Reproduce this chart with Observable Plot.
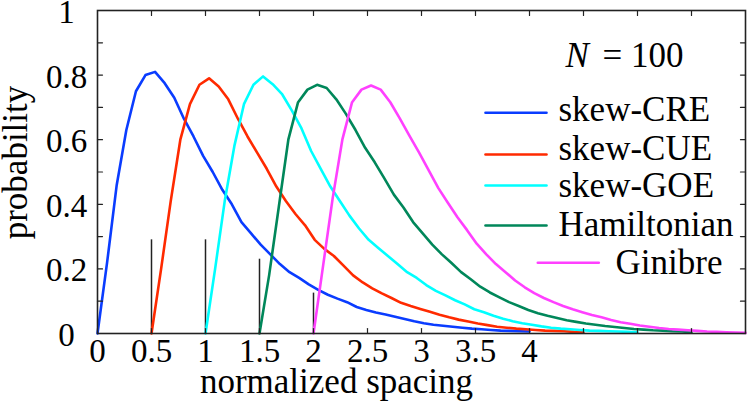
<!DOCTYPE html>
<html><head><meta charset="utf-8">
<script src="https://cdn.jsdelivr.net/npm/d3@7"></script>
<script src="https://cdn.jsdelivr.net/npm/@observablehq/plot@0.6"></script>
<style>body{margin:0;background:#fff;}</style>
</head><body><div id="chart"></div>
<script>
const seriesNames = ["skew-CRE", "skew-CUE", "skew-GOE", "Hamiltonian", "Ginibre"];
const seriesOffsets = [0, 0.5, 1, 1.5, 2];
const seriesColors = ["#0a3cff", "#ff2a00", "#00ffff", "#00875a", "#ff40ff"];
const spacingGrid = [0,0.089,0.178,0.267,0.356,0.444,0.533,0.622,0.711,0.8,0.889,0.978,1.067,1.156,1.244,1.333,1.422,1.511,1.6,1.689,1.778,1.867,1.956,2.044,2.133,2.222,2.311,2.4,2.489,2.578,2.667,2.756,2.844,2.933,3.022,3.111,3.2,3.289,3.378,3.467,3.556,3.644,3.733,3.822,3.911,4.0];
const creValues = [0,0.22,0.46,0.63,0.75,0.80,0.81,0.775,0.73,0.665,0.61,0.55,0.50,0.445,0.40,0.345,0.31,0.275,0.245,0.215,0.19,0.172,0.152,0.135,0.12,0.108,0.097,0.082,0.073,0.065,0.059,0.052,0.045,0.038,0.032,0.027,0.024,0.021,0.018,0.015,0.013,0.011,0.009,0.008,0.007,0.006];
const cueValues = [0,0.2,0.41,0.60,0.71,0.77,0.79,0.765,0.725,0.665,0.61,0.56,0.51,0.455,0.41,0.37,0.335,0.29,0.262,0.24,0.21,0.18,0.158,0.14,0.124,0.11,0.095,0.085,0.076,0.067,0.058,0.05,0.043,0.037,0.031,0.026,0.021,0.018,0.015,0.013,0.011,0.009,0.008,0.007,0.005,0.004];
const goeValues = [0,0.2,0.41,0.58,0.71,0.77,0.796,0.772,0.74,0.69,0.635,0.565,0.51,0.455,0.41,0.365,0.325,0.29,0.265,0.24,0.215,0.19,0.172,0.15,0.132,0.118,0.103,0.09,0.075,0.066,0.055,0.046,0.038,0.032,0.027,0.022,0.018,0.015,0.013,0.011,0.009,0.008,0.007,0.006,0.005,0.004];
const hamValues = [0,0.18,0.39,0.60,0.715,0.755,0.77,0.76,0.725,0.68,0.63,0.575,0.53,0.48,0.43,0.39,0.345,0.31,0.275,0.245,0.218,0.19,0.168,0.145,0.127,0.112,0.097,0.085,0.073,0.063,0.055,0.048,0.041,0.036,0.031,0.027,0.023,0.02,0.017,0.014,0.012,0.01,0.009,0.007,0.006,0.004];
const ginValues = [0,0.21,0.42,0.60,0.715,0.755,0.768,0.755,0.716,0.665,0.612,0.56,0.505,0.45,0.405,0.36,0.32,0.278,0.245,0.215,0.19,0.164,0.143,0.125,0.11,0.097,0.085,0.075,0.066,0.057,0.05,0.042,0.035,0.03,0.025,0.021,0.017,0.014,0.012,0.01,0.008,0.006,0.005,0.004,0.003,0.002];
const seriesValues = [creValues, cueValues, goeValues, hamValues, ginValues];
const markerX = [0.5, 1, 1.5, 2];
const markerHeights = [0.29, 0.29, 0.23, 0.125];
const xTickLabels = [0, 0.5, 1, 1.5, 2, 2.5, 3, 3.5, 4];
const xTickMarks = [0.5, 1, 1.5, 2, 2.5, 3, 3.5, 4, 4.5, 5, 5.5];
const yTickLabels = [0, 0.2, 0.4, 0.6, 0.8, 1];
const yTickMarks = [0.1, 0.2, 0.3, 0.4, 0.5, 0.6, 0.7, 0.8, 0.9];

const rows = [];
seriesNames.forEach((name, s) => {
  seriesValues[s].forEach((v, i) => rows.push({series: name, x: seriesOffsets[s] + spacingGrid[i], y: v}));
});
const markers = markerX.map((x, i) => ({x, h: markerHeights[i]}));

const lineShape = {draw(ctx, l) { ctx.moveTo(0, 0); ctx.lineTo(0, -l); }};
const font = "Liberation Serif";

// legend layout (pixel offsets from top-left of frame)
const legendLine = [
  {dx: 388, dy: 102.3}, {dx: 388, dy: 144}, {dx: 388, dy: 175}, {dx: 388, dy: 215}, {dx: 440.3, dy: 252.3}
];
const legendText = [
  {dx: 461, dy: 98.8}, {dx: 461, dy: 137.8}, {dx: 461, dy: 175.5}, {dx: 461, dy: 213.8}, {dx: 518, dy: 251.8}
];

const legendMarks = [];
seriesNames.forEach((name, s) => {
  legendMarks.push(Plot.vector([name], {frameAnchor: "top-left", dx: legendLine[s].dx, dy: legendLine[s].dy, length: 61, rotate: 90, anchor: "start", shape: lineShape, stroke: seriesColors[s], strokeWidth: 2.6}));
  legendMarks.push(Plot.text([name], {frameAnchor: "top-left", dx: legendText[s].dx, dy: legendText[s].dy, text: d => d, textAnchor: "start", lineAnchor: "middle", fontSize: 35, fontFamily: font, fill: "black"}));
});

const chart = Plot.plot({
  width: 747, height: 405,
  marginLeft: 97, marginRight: 2, marginTop: 10, marginBottom: 72,
  style: {fontFamily: font, background: "white", color: "black"},
  x: {domain: [0, 6]},
  y: {domain: [0, 1]},
  color: {domain: seriesNames, range: seriesColors},
  marks: [
    Plot.ruleX(markers, {x: "x", y1: 0, y2: "h", stroke: "#222", strokeWidth: 1.5}),
    Plot.line(rows, {x: "x", y: "y", z: "series", stroke: "series", strokeWidth: 2.6, strokeLinejoin: "round"}),
    Plot.vector(xTickMarks, {x: d => d, y: () => 0, length: 5, anchor: "start", shape: lineShape, stroke: "#222", strokeWidth: 1.2}),
    Plot.vector(xTickMarks, {x: d => d, y: () => 1, length: 5, rotate: 180, anchor: "start", shape: lineShape, stroke: "#222", strokeWidth: 1.2}),
    Plot.vector(yTickMarks, {x: () => 0, y: d => d, length: 5, rotate: 90, anchor: "start", shape: lineShape, stroke: "#222", strokeWidth: 1.2}),
    Plot.vector(yTickMarks, {x: () => 6, y: d => d, length: 5, rotate: -90, anchor: "start", shape: lineShape, stroke: "#222", strokeWidth: 1.2}),
    Plot.frame({stroke: "#222", strokeWidth: 1.6}),
    Plot.axisX(xTickLabels, {tickSize: 0, tickPadding: 5, fontSize: 33, label: null, tickFormat: d => String(d), fontFamily: font}),
    Plot.axisY(yTickLabels, {tickSize: 0, tickPadding: 31, textAnchor: "middle", fontSize: 33, label: null, tickFormat: d => String(d), fontFamily: font, dy: 2}),
    Plot.text(["normalized spacing"], {frameAnchor: "bottom", dx: -85, dy: 47.8, text: d => d, textAnchor: "middle", lineAnchor: "middle", fontSize: 35, fontFamily: font}),
    Plot.text(["probability"], {frameAnchor: "left", dx: -82, dy: -9.5, rotate: -90, text: d => d, textAnchor: "middle", lineAnchor: "middle", fontSize: 35, fontFamily: font}),
    Plot.text(["N"], {frameAnchor: "top-left", dx: 468, dy: 45.5, text: d => d, textAnchor: "start", lineAnchor: "middle", fontSize: 35, fontStyle: "italic", fontFamily: font}),
    Plot.text(["= 100"], {frameAnchor: "top-left", dx: 505, dy: 45.5, text: d => d, textAnchor: "start", lineAnchor: "middle", fontSize: 35, fontFamily: font}),
    ...legendMarks
  ]
});
document.getElementById("chart").appendChild(chart);
</script>
</body></html>
